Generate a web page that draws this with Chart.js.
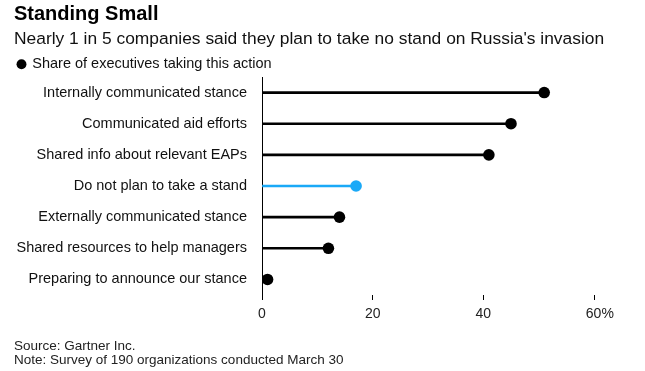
<!DOCTYPE html>
<html>
<head>
<meta charset="utf-8">
<script src="https://cdn.jsdelivr.net/npm/chart.js@4"></script>
<style>
  body { margin: 0; background: #fff; font-family: "Liberation Sans", Arial, sans-serif; }
  #wrap { position: relative; width: 645px; height: 371px; overflow: hidden; }
  #chart { position: absolute; left: 0; top: 0; }
  .txt { position: absolute; left: 14px; color: #000; white-space: nowrap; }
  #title { top: 2px; font-size: 20px; font-weight: bold; }
  #subtitle { top: 28px; font-size: 17.4px; color: #111; }
  #source { top: 338px; font-size: 13.5px; color: #222; }
  #note { top: 352px; font-size: 13.5px; color: #222; }
</style>
</head>
<body>
<div id="wrap">
  <canvas id="chart" width="645" height="371"></canvas>
  <div class="txt" id="title">Standing Small</div>
  <div class="txt" id="subtitle">Nearly 1 in 5 companies said they plan to take no stand on Russia's invasion</div>
  <div class="txt" id="source">Source: Gartner Inc.</div>
  <div class="txt" id="note">Note: Survey of 190 organizations conducted March 30</div>
</div>
<script>
const categories = [
    'Internally communicated stance',
    'Communicated aid efforts',
    'Shared info about relevant EAPs',
    'Do not plan to take a stand',
    'Externally communicated stance',
    'Shared resources to help managers',
    'Preparing to announce our stance'
];
const shares = [51, 45, 41, 17, 14, 12, 1];
const xTicks = [0, 20, 40, 60];

const highlight = 'Do not plan to take a stand';
const colors = categories.map(c => c === highlight ? '#1aa9f7' : '#000000');
const font = { family: '"Liberation Sans", Arial, sans-serif', size: 14.5 };

// 棒 + 点で lollipop を作る
const ctx = document.getElementById('chart').getContext('2d');
const chart = new Chart(ctx, {
    type: 'bar',
    data: {
        labels: categories,
        datasets: [{
            type: 'line',
            label: 'Share of executives taking this action',
            data: shares,
            showLine: false,
            pointRadius: 5.8,
            pointHoverRadius: 5.8,
            pointBackgroundColor: colors,
            pointBorderWidth: 0,
            backgroundColor: colors,
            borderColor: colors,
            order: 0
        }, {
            label: 'stem',
            data: shares,
            backgroundColor: colors,
            barThickness: 2,
            order: 1
        }]
    },
    options: {
        indexAxis: 'y',
        responsive: false,
        animation: false,
        layout: { padding: { left: 14, right: 51, top: 53, bottom: 47 } },
        plugins: {
            tooltip: { enabled: false },
            legend: {
                align: 'start',
                maxHeight: 24,
                labels: {
                    filter: item => item.datasetIndex === 0,
                    usePointStyle: true,
                    pointStyle: 'circle',
                    boxWidth: 7,
                    boxHeight: 7,
                    padding: 4,
                    color: '#111',
                    font: font
                }
            }
        },
        scales: {
            x: {
                min: 0,
                max: 60,
                afterBuildTicks: s => { s.ticks = xTicks.map(v => ({ value: v })); },
                afterFit: s => { s.height = 29; },
                border: { display: false },
                grid: { drawOnChartArea: false, drawTicks: true, tickLength: 5, color: '#000' },
                ticks: {
                    padding: 6,
                    color: '#222',
                    font: { family: font.family, size: 14 },
                    // "60" を目盛の中央に置き、% ははみ出させる
                    callback: v => v === 60 ? '   60%' : v
                }
            },
            y: {
                afterFit: s => { s.width = 248; },
                border: { display: true, color: '#000', width: 1 },
                grid: { display: false, drawTicks: false },
                ticks: {
                    padding: 15,
                    color: '#111',
                    font: font
                }
            }
        }
    }
});
</script>
</body>
</html>
